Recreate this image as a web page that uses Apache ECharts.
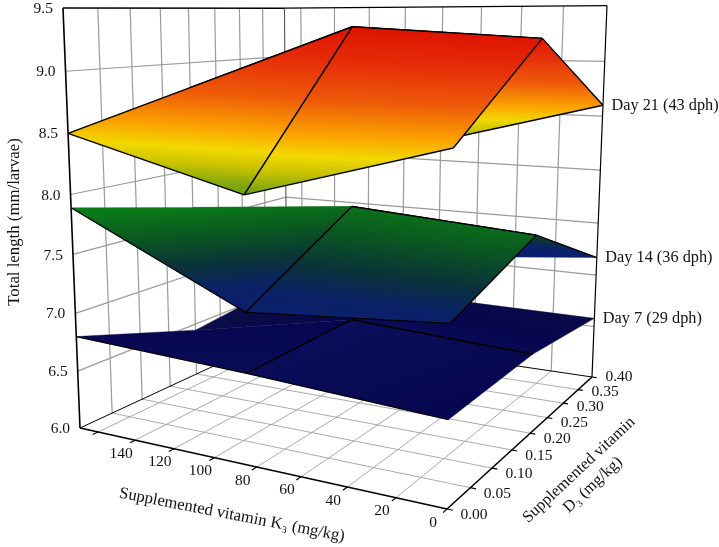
<!DOCTYPE html>
<html>
<head>
<meta charset="utf-8">
<style>html,body{margin:0;padding:0;background:#fff}#c{width:719px;height:547px}</style>
<script src="https://cdn.jsdelivr.net/npm/echarts@6/dist/echarts.min.js"></script>
</head>
<body>
<div id="c"></div>
<script>
// ---- data ----
const kNodes = [170, 84, 0];          // supplemented vitamin K3, mg/kg
const dNodes = [0, 0.2, 0.4];         // supplemented vitamin D3, mg/kg
// total length: rows follow dNodes, columns follow kNodes
const day21 = [[8.50, 8.12, 8.555], [8.77, 9.33, 9.24], [8.45, 8.18, 8.60]];
const day14 = [[7.89, 7.22, 7.35], [7.64, 7.78, 7.675], [6.81, 7.015, 7.17]];
const day7  = [[6.80, 6.74, 6.66], [6.44, 6.76, 6.68], [6.56, 6.59, 6.58]];
const surfaceNames = ['Day 7 (29 dph)', 'Day 14 (36 dph)', 'Day 21 (43 dph)'];
const zTicks = [6.0, 6.5, 7.0, 7.5, 8.0, 8.5, 9.0, 9.5];
const kTicks = [0, 20, 40, 60, 80, 100, 120, 140, 160];
const kLabels = [0, 20, 40, 60, 80, 100, 120, 140];
const dTicks = [0, 0.05, 0.10, 0.15, 0.20, 0.25, 0.30, 0.35, 0.40];
const axisMax = { k: 170, d: 0.4, zMin: 6, zMax: 9.5 };
const titleK = 'Supplemented vitamin K\u2083 (mg/kg)';
const titleD1 = 'Supplemented vitamin';
const titleD2 = 'D\u2083 (mg/kg)';
const titleZ = 'Total length (mm/larvae)';

// colour scale of the surfaces
const colorZ = [6.40, 6.60, 6.66, 6.75, 6.80, 7.00, 7.22, 7.35, 7.48, 7.64, 7.78, 7.90, 8.00, 8.18, 8.32, 8.42, 8.56, 8.80, 9.08, 9.33];
const colorC = ['#0f0f42', '#08084a', '#06064e', '#0a0e5a', '#0c1262', '#0a1a72', '#0a2070', '#0a2268', '#0a3338', '#0a5a20', '#0a7a18', '#0c7f14', '#4c8f12', '#7fa510', '#cfc500', '#f2d800', '#fba500', '#ee5a08', '#e52a08', '#dd1000'];

// outlined mesh edges per surface (grid index pairs)
const edges7  = ['0,0-1,0', '1,0-2,0', '1,0-1,1', '1,1-2,1'];
const edges14 = ['0,0-1,0', '1,0-2,0', '1,0-1,1', '1,1-2,1', '2,0-2,1', '2,1-2,2'];
const edges21 = ['0,0-1,0', '1,0-2,0', '0,0-0,1', '0,1-1,1', '1,0-1,1', '1,1-2,1', '2,0-2,1', '2,1-2,2', '1,2-2,2'];
// painter's order of the mesh cells, far to near
const cellOrder = [[0, 1], [0, 0], [1, 1], [1, 0]];

// ---- perspective projection of the 3D box ----
function project(k, d, z) {
  const u = k / axisMax.k, v = d / axisMax.d, w = (z - axisMax.zMin) / (axisMax.zMax - axisMax.zMin);
  const W = 1 + 0.2122 * u + 0.3473 * v - 0.07506 * w;
  return [
    (-350.02 * u + 350.6 * v - 25.36 * w + 447) / W,
    (9.82 * u - 1.07 * v - 505.6 * w + 509) / W + 3.75 * w * (v - u)
  ];
}

const FONT = '"Liberation Serif"';
const zMin = 6.2, zMax = 9.5;
const stops = colorZ.map((z, i) => ({ offset: (z - zMin) / (zMax - zMin), color: colorC[i] }));

function gradientFor(pts, zs) {
  // least-squares plane z = a x + b y + c over the projected corners
  const n = pts.length;
  let mx = 0, my = 0, mz = 0;
  for (let i = 0; i < n; i++) { mx += pts[i][0]; my += pts[i][1]; mz += zs[i]; }
  mx /= n; my /= n; mz /= n;
  let xx = 0, xy = 0, yy = 0, xz = 0, yz = 0;
  for (let i = 0; i < n; i++) {
    const dx = pts[i][0] - mx, dy = pts[i][1] - my, dz = zs[i] - mz;
    xx += dx * dx; xy += dx * dy; yy += dy * dy; xz += dx * dz; yz += dy * dz;
  }
  const det = xx * yy - xy * xy;
  const a = (xz * yy - yz * xy) / det, b = (yz * xx - xz * xy) / det;
  const g2 = a * a + b * b;
  const p = z => [mx + a * (z - mz) / g2, my + b * (z - mz) / g2];
  const p0 = p(zMin), p1 = p(zMax);
  return new echarts.graphic.LinearGradient(p0[0], p0[1], p1[0], p1[1], stops, true);
}

function surfaceSeries(name, table, outlined) {
  return {
    type: 'custom', name, coordinateSystem: 'cartesian2d', silent: true, clip: false,
    animation: false,
    data: cellOrder,
    renderItem(params, api) {
      const i = api.value(0), j = api.value(1);
      const corners = [[i, j], [i + 1, j], [i + 1, j + 1], [i, j + 1]];
      const pts = corners.map(c => api.coord(project(kNodes[c[0]], dNodes[c[1]], table[c[1]][c[0]])));
      const zs = corners.map(c => table[c[1]][c[0]]);
      const fill = gradientFor(pts, zs);
      const children = [{ type: 'polygon', shape: { points: pts }, style: { fill, stroke: fill, lineWidth: 0.4 } }];
      corners.forEach((c, n) => {
        const e = corners[(n + 1) % 4];
        const a = c[0] < e[0] || (c[0] === e[0] && c[1] < e[1]) ? c : e, b = a === c ? e : c;
        if (outlined.indexOf(a.join(',') + '-' + b.join(',')) >= 0) {
          children.push({
            type: 'line',
            shape: { x1: pts[n][0], y1: pts[n][1], x2: pts[(n + 1) % 4][0], y2: pts[(n + 1) % 4][1] },
            style: { stroke: '#000', lineWidth: 1.4 }
          });
        }
      });
      return { type: 'group', children };
    }
  };
}

function frameSeries() {
  return {
    type: 'custom', coordinateSystem: 'cartesian2d', silent: true, clip: false, animation: false,
    data: [[0, 0]],
    renderItem(params, api) {
      const P = (k, d, z) => api.coord(project(k, d, z));
      const L = (a, b, stroke, lineWidth) => ({
        type: 'line', shape: { x1: a[0], y1: a[1], x2: b[0], y2: b[1] }, style: { stroke, lineWidth }
      });
      const T = (text, x, y, align, size, rotation) => ({
        type: 'text', x, y, rotation: rotation || 0,
        style: { text, x: 0, y: 0, fill: '#111', fontFamily: FONT, fontSize: size || 15.5, align: align || 'center', verticalAlign: 'middle' }
      });
      const K = axisMax.k, D = axisMax.d, Z0 = axisMax.zMin, Z1 = axisMax.zMax;
      const out = [];
      const grid = '#9a9a9a', floor = '#a0a0a0';
      // walls
      zTicks.slice(1, -1).forEach(z => {
        out.push(L(P(K, 0, z), P(K, D, z), grid, 1.2));
        out.push(L(P(K, D, z), P(0, D, z), grid, 1.2));
      });
      dTicks.slice(1, -1).forEach(d => {
        out.push(L(P(K, d, Z0), P(K, d, Z1), grid, 1.2));
        out.push(L(P(0, d, Z0), P(K, d, Z0), floor, 0.9));
      });
      kTicks.slice(1).forEach(k => {
        out.push(L(P(k, D, Z0), P(k, D, Z1), grid, 1.2));
        out.push(L(P(k, 0, Z0), P(k, D, Z0), floor, 0.9));
      });
      // box
      out.push(L(P(K, D, Z0), P(K, D, Z1), '#555', 1.1));
      out.push(L(P(K, 0, Z0), P(K, D, Z0), '#000', 1));
      out.push(L(P(0, D, Z0), P(K, D, Z0), '#000', 1));
      out.push(L(P(K, 0, Z1), P(K, D, Z1), '#000', 1.5));
      out.push(L(P(K, D, Z1), P(0, D, Z1), '#000', 1.3));
      out.push(L(P(K, 0, Z0), P(K, 0, Z1), '#000', 1.6));
      out.push(L(P(0, D, Z0), P(0, D, Z1), '#000', 1.2));
      out.push(L(P(0, 0, Z0), P(K, 0, Z0), '#000', 1.6));
      out.push(L(P(0, 0, Z0), P(0, D, Z0), '#000', 1.6));
      // ticks and labels
      kTicks.forEach(k => out.push(L(P(k, 0, Z0), P(k, -0.008, Z0), '#000', 1.2)));
      dTicks.forEach(d => out.push(L(P(0, d, Z0), P(-2.2, d, Z0), '#000', 1.2)));
      kLabels.forEach(k => { const p = P(k, 0, Z0); out.push(T(String(k), p[0] - 14, p[1] + 13.5)); });
      dTicks.forEach(d => {
        const p = P(0, d, Z0), v = d / D;
        out.push(T(d.toFixed(2), p[0] + 27, p[1] + (v < 0.6 ? 6 : 6 - (v - 0.6) * 15)));
      });
      zTicks.forEach(z => { const p = P(K, 0, z); out.push(T(z.toFixed(1), p[0] - 10, p[1] + 1, 'right')); });
      // titles
      out.push(T(titleK, 232, 515, 'center', 16.6, -11 * Math.PI / 180));
      out.push(T(titleD1, 579, 470, 'center', 16.3, 43 * Math.PI / 180));
      out.push(T(titleD2, 593, 485, 'center', 16.3, 43 * Math.PI / 180));
      out.push(T(titleZ, 15, 222, 'center', 16.8, Math.PI / 2));
      return { type: 'group', children: out };
    }
  };
}

function labelSeries() {
  const rows = [day7, day14, day21];
  return {
    type: 'custom', coordinateSystem: 'cartesian2d', silent: true, clip: false, animation: false,
    data: rows.map((r, i) => [i, 0]),
    renderItem(params, api) {
      const i = api.value(0);
      const p = api.coord(project(0, axisMax.d, rows[i][2][2]));
      return {
        type: 'text', x: p[0] + 8.5, y: p[1] + 0.5,
        style: { text: surfaceNames[i], x: 0, y: 0, fill: '#111', fontFamily: FONT, fontSize: 16.3, align: 'left', verticalAlign: 'middle' }
      };
    }
  };
}

const chart = echarts.init(document.getElementById('c'), null, { renderer: 'canvas', width: 719, height: 547 });
chart.setOption({
  animation: false,
  backgroundColor: '#fff',
  grid: { left: 0, right: 0, top: 0, bottom: 0 },
  xAxis: { type: 'value', min: 0, max: 719, show: false },
  yAxis: { type: 'value', min: 0, max: 547, inverse: true, show: false },
  series: [
    frameSeries(),
    surfaceSeries(surfaceNames[0], day7, edges7),
    surfaceSeries(surfaceNames[1], day14, edges14),
    surfaceSeries(surfaceNames[2], day21, edges21),
    labelSeries()
  ]
});
</script>
</body>
</html>
